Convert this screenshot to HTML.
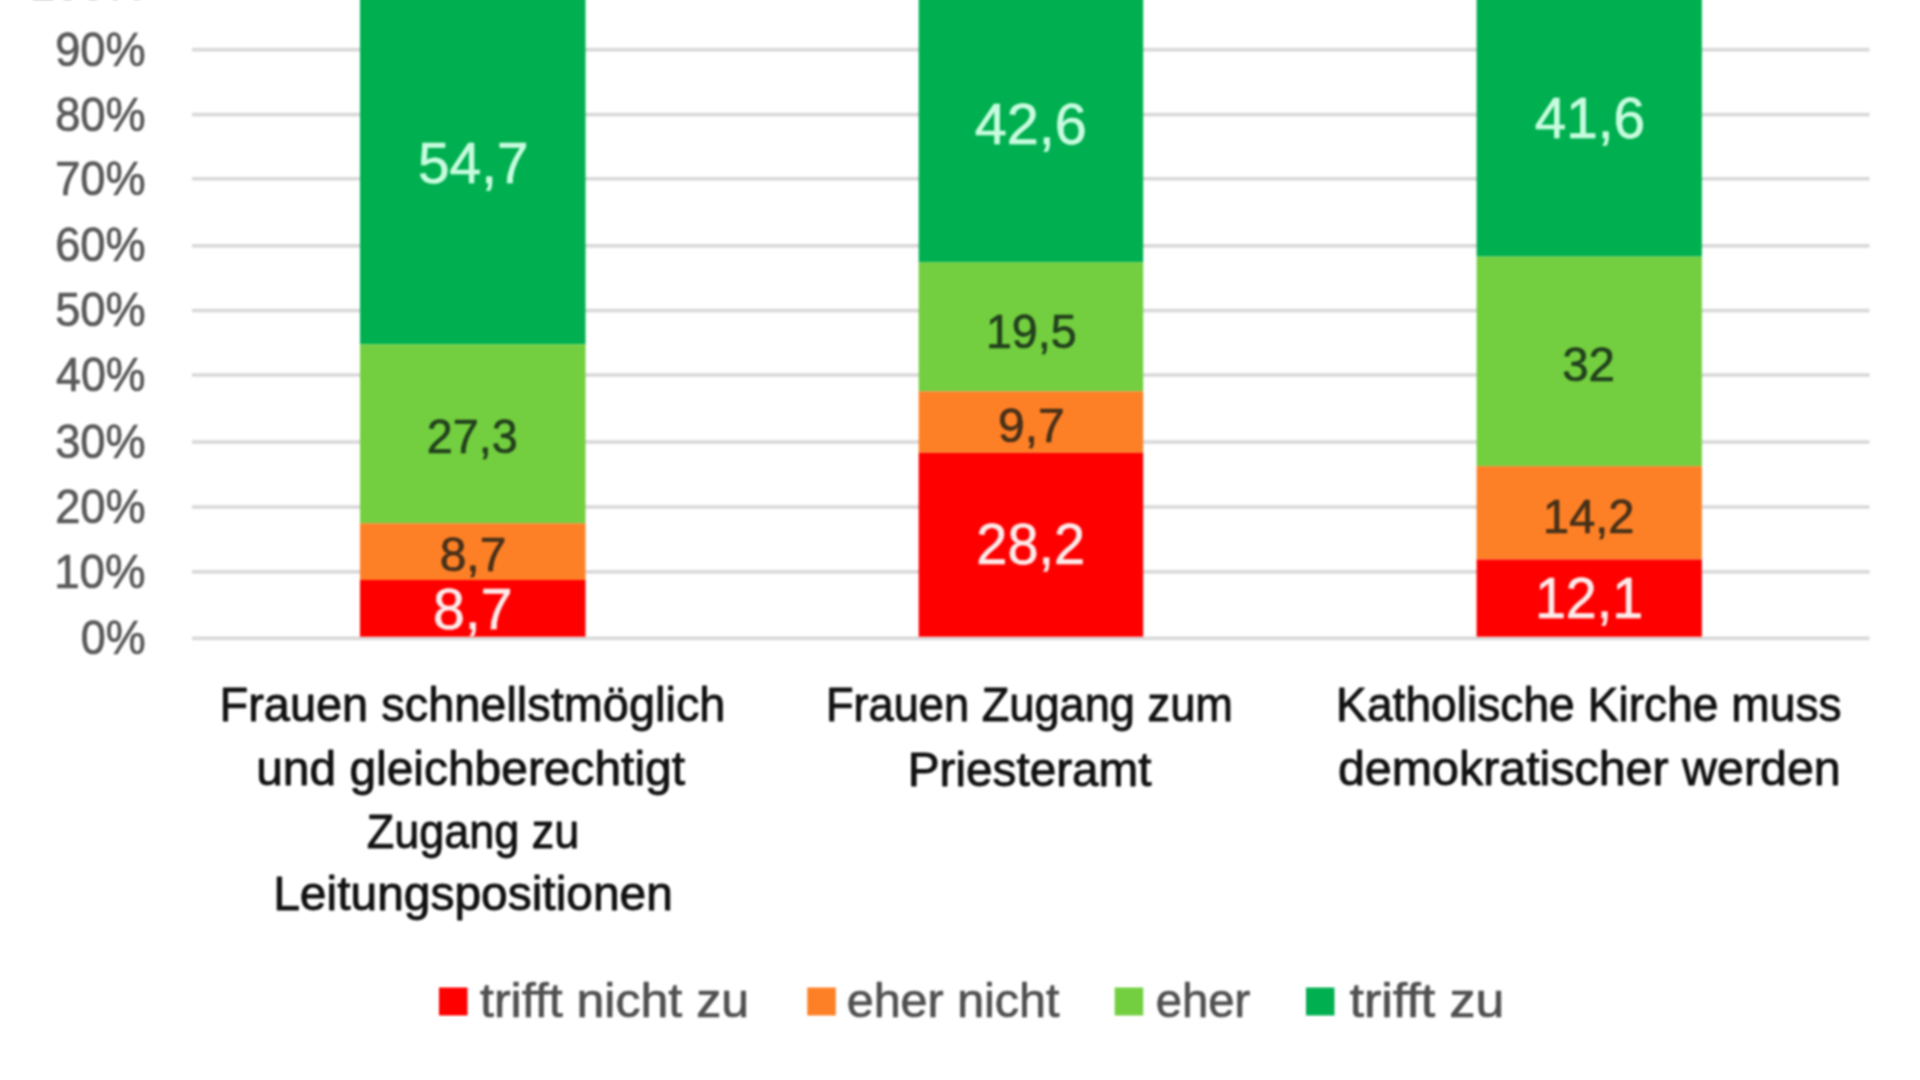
<!DOCTYPE html>
<html lang="de">
<head>
<meta charset="utf-8">
<title>Umfrage Katholische Kirche – Diagramm</title>
<style>
html,body{margin:0;padding:0;background:#fff;}
body{width:1920px;height:1080px;overflow:hidden;}
svg{display:block;}
text{font-family:"Liberation Sans", Arial, sans-serif;white-space:pre;}
</style>
</head>
<body>
<svg width="1920" height="1080" viewBox="0 0 1920 1080">
<defs><filter id="bl" color-interpolation-filters="sRGB" x="-2%" y="-2%" width="104%" height="104%"><feGaussianBlur stdDeviation="1.0"/></filter><filter id="bt" color-interpolation-filters="sRGB" x="-5%" y="-20%" width="110%" height="140%"><feGaussianBlur stdDeviation="0.8"/></filter></defs>
<rect x="0" y="0" width="1920" height="1080" fill="#ffffff"/>
<g id="gridlines" fill="#d8d8d8" filter="url(#bl)">
<rect x="192" y="47.90" width="1677.5" height="3.6"/>
<rect x="192" y="112.80" width="1677.5" height="3.6"/>
<rect x="192" y="176.95" width="1677.5" height="3.6"/>
<rect x="192" y="244.00" width="1677.5" height="3.6"/>
<rect x="192" y="308.75" width="1677.5" height="3.6"/>
<rect x="192" y="373.20" width="1677.5" height="3.6"/>
<rect x="192" y="440.20" width="1677.5" height="3.6"/>
<rect x="192" y="505.20" width="1677.5" height="3.6"/>
<rect x="192" y="570.05" width="1677.5" height="3.6"/>
<rect x="192" y="636.50" width="1677.5" height="3.6"/>
</g>
<g id="bars" filter="url(#bl)">
<rect x="360" y="-5" width="225.50" height="349.30" fill="#00b050"/>
<rect x="360" y="344.3" width="225.50" height="179.00" fill="#73cf3f"/>
<rect x="360" y="523.3" width="225.50" height="56.70" fill="#fd8026"/>
<rect x="360" y="580" width="225.50" height="56.80" fill="#ff0000"/>
<rect x="918.7" y="-5" width="224.50" height="267.30" fill="#00b050"/>
<rect x="918.7" y="262.3" width="224.50" height="129.00" fill="#73cf3f"/>
<rect x="918.7" y="391.3" width="224.50" height="61.50" fill="#fd8026"/>
<rect x="918.7" y="452.8" width="224.50" height="184.00" fill="#ff0000"/>
<rect x="1476.6" y="-5" width="225.30" height="261.60" fill="#00b050"/>
<rect x="1476.6" y="256.6" width="225.30" height="209.60" fill="#73cf3f"/>
<rect x="1476.6" y="466.2" width="225.30" height="93.30" fill="#fd8026"/>
<rect x="1476.6" y="559.5" width="225.30" height="77.30" fill="#ff0000"/>
</g>
<g id="legend-keys" filter="url(#bl)">
<rect x="439" y="987.5" width="28.5" height="28.0" fill="#ff0000"/>
<rect x="807.3" y="987.5" width="28.5" height="28.0" fill="#fd8026"/>
<rect x="1114.7" y="987.5" width="28.5" height="28.0" fill="#73cf3f"/>
<rect x="1306" y="987.5" width="28.5" height="28.0" fill="#00b050"/>
</g>
<g id="labels" filter="url(#bt)">
<text x="29.70" y="-0.8" font-size="48.6" fill="#595959" stroke="#595959" stroke-width="0.7" stroke-linejoin="round" textLength="116.01" lengthAdjust="spacingAndGlyphs">100%</text>
<text x="55.14" y="65.5" font-size="48.6" fill="#595959" stroke="#595959" stroke-width="0.7" stroke-linejoin="round" textLength="90.54" lengthAdjust="spacingAndGlyphs">90%</text>
<text x="55.14" y="130.5" font-size="48.6" fill="#595959" stroke="#595959" stroke-width="0.7" stroke-linejoin="round" textLength="90.54" lengthAdjust="spacingAndGlyphs">80%</text>
<text x="55.14" y="195" font-size="48.6" fill="#595959" stroke="#595959" stroke-width="0.7" stroke-linejoin="round" textLength="90.54" lengthAdjust="spacingAndGlyphs">70%</text>
<text x="55.14" y="260.5" font-size="48.6" fill="#595959" stroke="#595959" stroke-width="0.7" stroke-linejoin="round" textLength="90.54" lengthAdjust="spacingAndGlyphs">60%</text>
<text x="55.14" y="326" font-size="48.6" fill="#595959" stroke="#595959" stroke-width="0.7" stroke-linejoin="round" textLength="90.54" lengthAdjust="spacingAndGlyphs">50%</text>
<text x="56.08" y="391" font-size="48.6" fill="#595959" stroke="#595959" stroke-width="0.7" stroke-linejoin="round" textLength="89.59" lengthAdjust="spacingAndGlyphs">40%</text>
<text x="55.14" y="458" font-size="48.6" fill="#595959" stroke="#595959" stroke-width="0.7" stroke-linejoin="round" textLength="90.54" lengthAdjust="spacingAndGlyphs">30%</text>
<text x="55.14" y="523" font-size="48.6" fill="#595959" stroke="#595959" stroke-width="0.7" stroke-linejoin="round" textLength="90.54" lengthAdjust="spacingAndGlyphs">20%</text>
<text x="54.18" y="587.5" font-size="48.6" fill="#595959" stroke="#595959" stroke-width="0.7" stroke-linejoin="round" textLength="91.51" lengthAdjust="spacingAndGlyphs">10%</text>
<text x="80.65" y="653.75" font-size="48.6" fill="#595959" stroke="#595959" stroke-width="0.7" stroke-linejoin="round" textLength="64.99" lengthAdjust="spacingAndGlyphs">0%</text>
<text x="418.04" y="182.5" font-size="58.0" fill="#d2ffe6" fill-opacity="0.95" stroke="#d2ffe6" stroke-width="0.7" stroke-linejoin="round" stroke-opacity="0.95" textLength="110.51" lengthAdjust="spacingAndGlyphs">54,7</text>
<text x="426.87" y="452.5" font-size="48.3" fill="#22401e" stroke="#22401e" stroke-width="0.7" stroke-linejoin="round" textLength="90.87" lengthAdjust="spacingAndGlyphs">27,3</text>
<text x="439.72" y="570.8" font-size="48.3" fill="#46301a" stroke="#46301a" stroke-width="0.7" stroke-linejoin="round" textLength="66.61" lengthAdjust="spacingAndGlyphs">8,7</text>
<text x="433.03" y="629.2" font-size="58.0" fill="#ffeaea" stroke="#ffeaea" stroke-width="0.7" stroke-linejoin="round" textLength="79.58" lengthAdjust="spacingAndGlyphs">8,7</text>
<text x="974.81" y="144.2" font-size="58.0" fill="#d2ffe6" fill-opacity="0.95" stroke="#d2ffe6" stroke-width="0.7" stroke-linejoin="round" stroke-opacity="0.95" textLength="112.07" lengthAdjust="spacingAndGlyphs">42,6</text>
<text x="985.90" y="347.5" font-size="48.3" fill="#22401e" stroke="#22401e" stroke-width="0.7" stroke-linejoin="round" textLength="90.73" lengthAdjust="spacingAndGlyphs">19,5</text>
<text x="998.02" y="441.7" font-size="48.3" fill="#46301a" stroke="#46301a" stroke-width="0.7" stroke-linejoin="round" textLength="66.61" lengthAdjust="spacingAndGlyphs">9,7</text>
<text x="976.37" y="564.2" font-size="58.0" fill="#ffeaea" stroke="#ffeaea" stroke-width="0.7" stroke-linejoin="round" textLength="108.75" lengthAdjust="spacingAndGlyphs">28,2</text>
<text x="1534.82" y="138.3" font-size="58.0" fill="#d2ffe6" fill-opacity="0.95" stroke="#d2ffe6" stroke-width="0.7" stroke-linejoin="round" stroke-opacity="0.95" textLength="110.32" lengthAdjust="spacingAndGlyphs">41,6</text>
<text x="1562.24" y="380.8" font-size="48.3" fill="#22401e" stroke="#22401e" stroke-width="0.7" stroke-linejoin="round" textLength="52.77" lengthAdjust="spacingAndGlyphs">32</text>
<text x="1543.08" y="532.5" font-size="48.3" fill="#46301a" stroke="#46301a" stroke-width="0.7" stroke-linejoin="round" textLength="91.36" lengthAdjust="spacingAndGlyphs">14,2</text>
<text x="1534.92" y="617.5" font-size="58.0" fill="#ffeaea" stroke="#ffeaea" stroke-width="0.7" stroke-linejoin="round" textLength="108.14" lengthAdjust="spacingAndGlyphs">12,1</text>
<text x="219.54" y="721.3" font-size="47.6" fill="#111111" stroke="#111111" stroke-width="0.9" stroke-linejoin="round" textLength="505.93" lengthAdjust="spacingAndGlyphs">Frauen schnellstmöglich</text>
<text x="256.18" y="785" font-size="47.6" fill="#111111" stroke="#111111" stroke-width="0.9" stroke-linejoin="round" textLength="428.82" lengthAdjust="spacingAndGlyphs">und gleichberechtigt</text>
<text x="366.86" y="847.5" font-size="47.6" fill="#111111" stroke="#111111" stroke-width="0.9" stroke-linejoin="round" textLength="212.40" lengthAdjust="spacingAndGlyphs">Zugang zu</text>
<text x="273.23" y="909.5" font-size="47.6" fill="#111111" stroke="#111111" stroke-width="0.9" stroke-linejoin="round" textLength="399.73" lengthAdjust="spacingAndGlyphs">Leitungspositionen</text>
<text x="825.90" y="721.25" font-size="47.6" fill="#111111" stroke="#111111" stroke-width="0.9" stroke-linejoin="round" textLength="407.05" lengthAdjust="spacingAndGlyphs">Frauen Zugang zum</text>
<text x="907.74" y="785.5" font-size="47.6" fill="#111111" stroke="#111111" stroke-width="0.9" stroke-linejoin="round" textLength="243.84" lengthAdjust="spacingAndGlyphs">Priesteramt</text>
<text x="1336.09" y="721" font-size="47.6" fill="#111111" stroke="#111111" stroke-width="0.9" stroke-linejoin="round" textLength="505.60" lengthAdjust="spacingAndGlyphs">Katholische Kirche muss</text>
<text x="1337.97" y="785" font-size="47.6" fill="#111111" stroke="#111111" stroke-width="0.9" stroke-linejoin="round" textLength="502.75" lengthAdjust="spacingAndGlyphs">demokratischer werden</text>
<text x="480.00" y="1017.3" font-size="47.6" fill="#505050" stroke="#505050" stroke-width="0.7" stroke-linejoin="round" textLength="269.09" lengthAdjust="spacingAndGlyphs">trifft nicht zu</text>
<text x="846.71" y="1017.3" font-size="47.6" fill="#505050" stroke="#505050" stroke-width="0.7" stroke-linejoin="round" textLength="212.80" lengthAdjust="spacingAndGlyphs">eher nicht</text>
<text x="1155.72" y="1017.3" font-size="47.6" fill="#505050" stroke="#505050" stroke-width="0.7" stroke-linejoin="round" textLength="94.55" lengthAdjust="spacingAndGlyphs">eher</text>
<text x="1349.50" y="1017.3" font-size="47.6" fill="#505050" stroke="#505050" stroke-width="0.7" stroke-linejoin="round" textLength="154.97" lengthAdjust="spacingAndGlyphs">trifft zu</text>
</g>
</svg>
</body>
</html>
